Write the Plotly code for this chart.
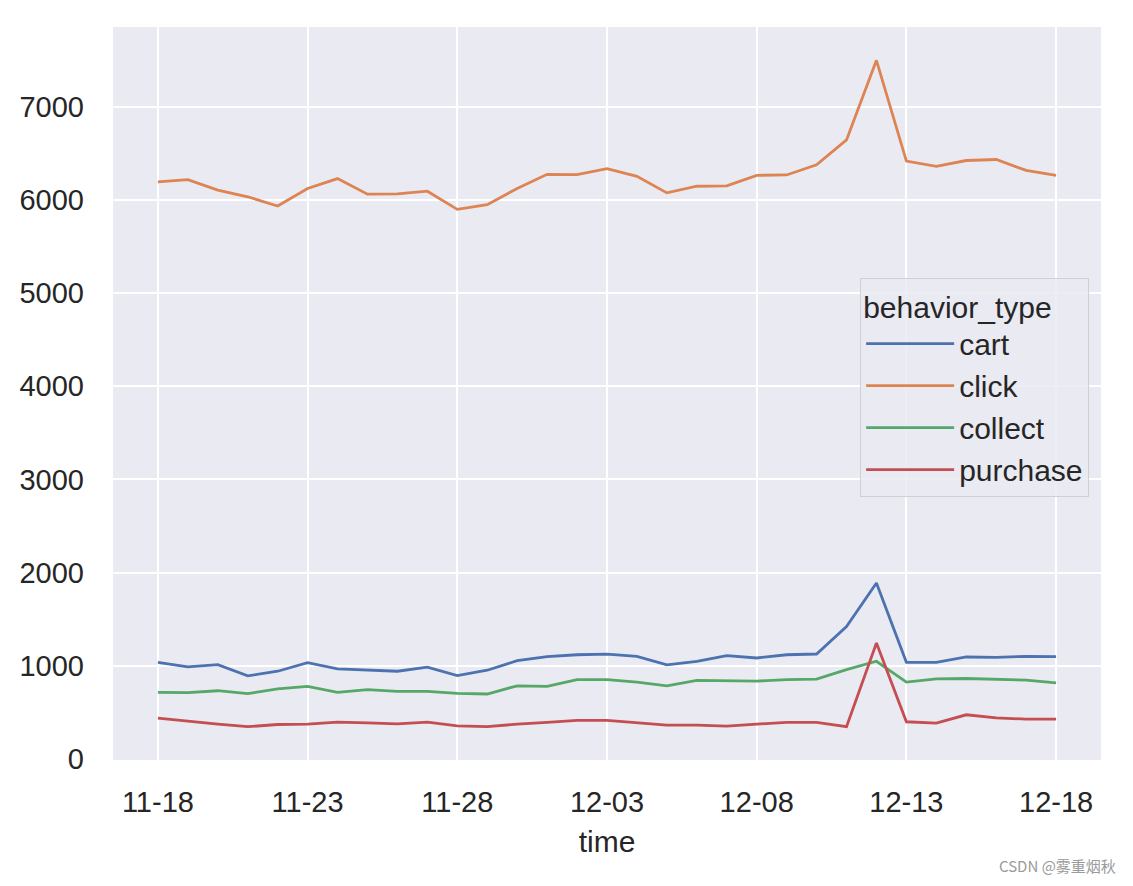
import pandas as pd
import plotly.graph_objects as go

dates = pd.date_range("2014-11-18", "2014-12-18", freq="D").strftime("%Y-%m-%d").tolist()

cart = [1039, 989, 1014, 894, 943, 1035, 968, 954, 943, 986, 897, 954, 1056, 1099, 1120, 1126,
        1103, 1011, 1050, 1110, 1085, 1120, 1128, 1422, 1890, 1039, 1039, 1096, 1092, 1103, 1099]
click = [6191, 6216, 6103, 6032, 5933, 6121, 6227, 6060, 6064, 6092, 5897, 5947, 6121, 6273, 6270, 6333,
         6252, 6074, 6145, 6149, 6262, 6266, 6376, 6642, 7496, 6415, 6358, 6421, 6432, 6315, 6262]
collect = [716, 713, 734, 702, 755, 780, 716, 745, 727, 727, 706, 699, 787, 780, 854, 854,
           826, 787, 844, 837, 837, 854, 858, 961, 1050, 826, 862, 865, 858, 848, 819]
purchase = [440, 404, 376, 348, 372, 376, 397, 390, 379, 397, 358, 348, 376, 394, 415, 415,
            394, 365, 365, 355, 376, 394, 394, 348, 1245, 401, 387, 476, 443, 429, 429]

series_names = ["cart", "click", "collect", "purchase"]
series_values = [cart, click, collect, purchase]
colors = ["#4C72B0", "#DD8452", "#55A868", "#C44E52"]

tick_dates = ["2014-11-18", "2014-11-23", "2014-11-28", "2014-12-03", "2014-12-08", "2014-12-13", "2014-12-18"]
tick_labels = ["11-18", "11-23", "11-28", "12-03", "12-08", "12-13", "12-18"]
y_ticks = [0, 1000, 2000, 3000, 4000, 5000, 6000, 7000]

FONT = "Liberation Sans, Arial, sans-serif"
TXT = "#262626"

fig = go.Figure()
for name, vals, c in zip(series_names, series_values, colors):
    fig.add_trace(go.Scatter(x=dates, y=vals, mode="lines", name=name,
                             line=dict(color=c, width=2.8)))

fig.update_layout(
    width=1133, height=886,
    margin=dict(l=105, r=40, t=19, b=134),
    paper_bgcolor="white",
    plot_bgcolor="#EAEAF2",
    font=dict(family=FONT, color=TXT, size=29),
    showlegend=True,
    legend=dict(
        title=dict(text="behavior_type", font=dict(size=30, family=FONT, color=TXT)),
        font=dict(size=30, family=FONT, color=TXT),
        x=0.988, y=0.658, xanchor="right", yanchor="top",
        xref="paper", yref="paper",
        bgcolor="rgba(234,234,242,0.85)",
        bordercolor="#cfcfd6", borderwidth=1,
        itemwidth=88,
    ),
    xaxis=dict(
        type="date",
        range=["2014-11-16 12:00", "2014-12-19 12:00"],
        tickvals=tick_dates, ticktext=tick_labels,
        showgrid=True, gridcolor="white", gridwidth=2,
        zeroline=False, showline=False, ticks="",
        ticklabelstandoff=22,
        tickfont=dict(size=29, family=FONT, color=TXT),
        title=dict(text="time", font=dict(size=30, family=FONT, color=TXT), standoff=13),
        automargin=False,
    ),
    yaxis=dict(
        range=[-9, 7853],
        tickvals=y_ticks,
        showgrid=True, gridcolor="white", gridwidth=2,
        zeroline=False, showline=False, ticks="",
        ticklabelstandoff=28,
        tickfont=dict(size=29, family=FONT, color=TXT),
        automargin=False,
    ),
)

fig.add_annotation(
    text="CSDN @雾重烟秋", xref="paper", yref="paper",
    x=1.017, y=-0.1446, xanchor="right", yanchor="middle",
    showarrow=False,
    font=dict(size=15, family="Noto Sans CJK SC, sans-serif", color="#9a9a9a"),
)

fig.write_html("out.html")
